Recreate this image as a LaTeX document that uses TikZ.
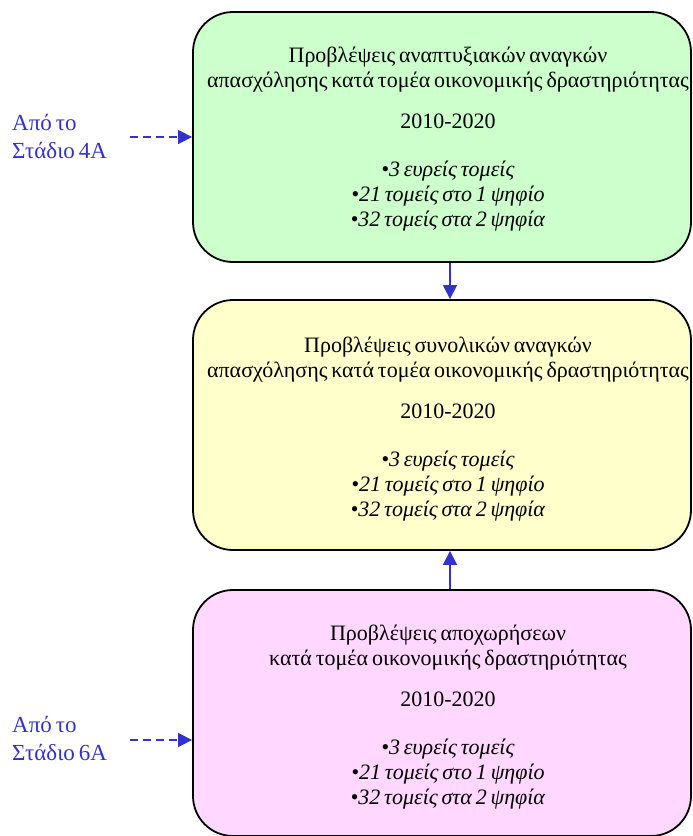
\documentclass[tikz,border=0pt]{standalone}
\usepackage{fontspec}
\setmainfont[WordSpace=0.7]{Liberation Serif}
\usetikzlibrary{arrows.meta}
\definecolor{bgreen}{HTML}{CCFFCC}
\definecolor{byellow}{HTML}{FFFFCC}
\definecolor{bpink}{HTML}{FFD7FF}
\definecolor{ablue}{HTML}{3333CC}
\tikzset{
  box/.style={draw=black, line width=1.8pt, rounded corners=40pt, minimum width=498pt, minimum height=250pt, inner sep=0pt},
  txt/.style={align=center, inner sep=0pt, font=\fontsize{22}{25}\selectfont},
  lbl/.style={align=left, inner sep=0pt, text=ablue, font=\fontsize{23}{28}\selectfont, anchor=west},
  flow/.style={draw=ablue, line width=1.5pt, -{Triangle[length=14pt,width=14pt]}},
  dflow/.style={flow, dash pattern=on 8pt off 5pt}
}
\newcommand{\boxbody}[1]{#1\\[16pt]2010-2020\\[23pt]\textit{•3 ευρείς τομείς}\\\textit{•21 τομείς στο 1 ψηφίο}\\\textit{•32 τομείς στα 2 ψηφία}}
\begin{document}
\begin{tikzpicture}[x=1pt,y=-1pt]
\useasboundingbox (0,0) rectangle (693,836);
\node[box, fill=bgreen] (b1) at (442,137) {};
\node[box, fill=byellow] (b2) at (442,425) {};
\node[box, fill=bpink, minimum height=246pt] (b3) at (442,713) {};
\node[txt] (t1) at (448,139) {\boxbody{Προβλέψεις αναπτυξιακών αναγκών\\απασχόλησης κατά τομέα οικονομικής δραστηριότητας}};
\node[txt] (t2) at (448,429) {\boxbody{Προβλέψεις συνολικών αναγκών\\απασχόλησης κατά τομέα οικονομικής δραστηριότητας}};
\node[txt] (t3) at (448,717.5) {\boxbody{Προβλέψεις αποχωρήσεων\\κατά τομέα οικονομικής δραστηριότητας}};
\node[lbl] (l1) at (12,136) {Από το\\Στάδιο 4Α};
\node[lbl] (l2) at (12,738) {Από το\\Στάδιο 6Α};
\coordinate (d1) at (130,137);
\coordinate (d2) at (130,740);
\draw[dflow] (d1) -- (d1 -| b1.west);
\draw[dflow] (d2) -- (d2 -| b3.west);
\draw[flow] (b1.south -| 450,0) -- (b2.north -| 450,0);
\draw[flow] (b3.north -| 450,0) -- (b2.south -| 450,0);
\end{tikzpicture}
\end{document}
